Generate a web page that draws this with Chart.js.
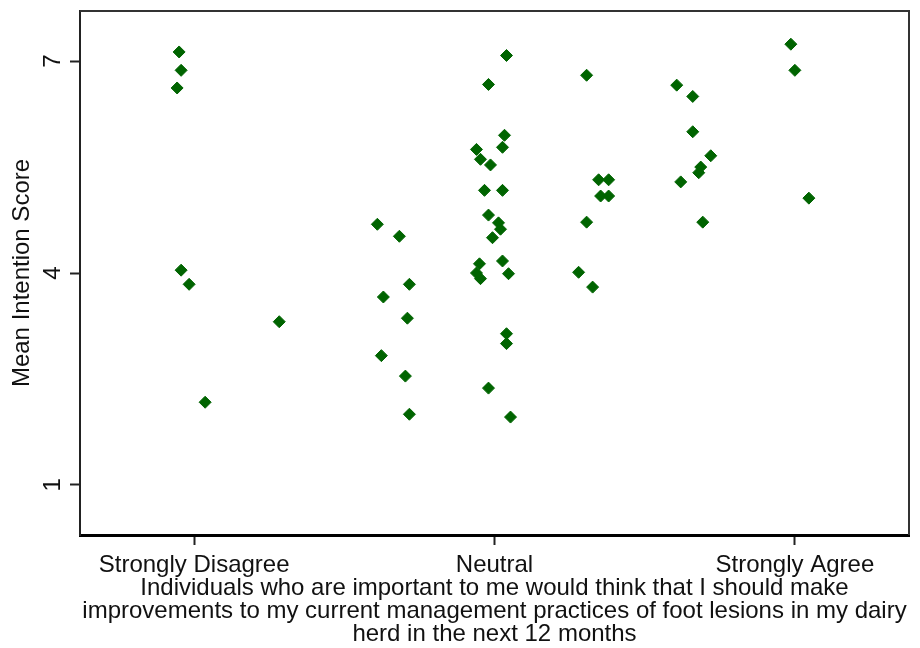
<!DOCTYPE html>
<html>
<head>
<meta charset="utf-8">
<script src="https://cdn.jsdelivr.net/npm/chart.js@4/dist/chart.umd.min.js"></script>
<style>
  html, body { margin: 0; padding: 0; background: #fff; }
  #scoreChart { display: block; }
</style>
</head>
<body>
<canvas id="scoreChart" width="920" height="648"></canvas>
<script>
// jittered response position (1 = strongly disagree ... 7 = strongly agree)
const responsePos = [
  0.85, 0.87, 0.83, 0.87, 0.95, 1.85, 1.11,
  2.83, 3.05, 3.15, 2.89, 3.13, 2.87, 3.11, 3.15,
  4.12, 3.94, 4.10, 4.08, 3.82, 3.86, 3.96, 3.90, 4.08, 3.94, 4.04,
  4.06, 3.98, 4.08, 3.85, 3.82, 3.86, 4.14, 4.12, 4.12, 3.94, 4.16,
  4.92, 5.04, 5.14, 5.06, 5.14, 4.92, 4.84, 4.98,
  5.82, 5.98, 5.98, 6.16, 6.06, 6.04, 5.86, 6.08,
  6.96, 7.00, 7.14
];
// mean intention score for each respondent
const intentionScore = [
  7.13, 6.87, 6.62, 4.04, 3.84, 3.31, 2.17,
  4.69, 4.52, 3.84, 3.66, 3.36, 2.83, 2.54, 2.00,
  7.08, 6.67, 5.95, 5.78, 5.75, 5.61, 5.53, 5.17, 5.17, 4.82, 4.71,
  4.62, 4.50, 4.17, 4.13, 4.00, 3.92, 3.99, 3.14, 3.00, 2.37, 1.96,
  6.80, 5.32, 5.32, 5.09, 5.09, 4.72, 4.01, 3.80,
  6.66, 6.50, 6.00, 5.66, 5.50, 5.42, 5.29, 4.72,
  7.24, 6.87, 5.06
];

const xTicks = [1, 4, 7];
const xTickLabels = ['Strongly Disagree', 'Neutral', 'Strongly Agree'];
const yTicks = [1, 4, 7];
const xTitle = [
  'Individuals who are important to me would think that I should make',
  'improvements to my current management practices of foot lesions in my dairy',
  'herd in the next 12 months'
];
const yTitle = 'Mean Intention Score';

const FONT = "'Liberation Sans', Arial, sans-serif";
const TEXT = '#111';

// top and right edges of the plot frame
const framePlugin = {
  id: 'frame',
  afterDraw(chart) {
    const { ctx, chartArea: a } = chart;
    ctx.save();
    ctx.strokeStyle = '#333';
    ctx.lineWidth = 2;
    ctx.beginPath();
    ctx.moveTo(a.left, a.top);
    ctx.lineTo(a.right, a.top);
    ctx.lineTo(a.right, a.bottom);
    ctx.stroke();
    ctx.restore();
  }
};

const points = responsePos.map((x, i) => ({ x: x, y: intentionScore[i] }));

new Chart(document.getElementById('scoreChart'), {
  type: 'scatter',
  data: {
    datasets: [{
      data: points,
      pointStyle: 'rectRot',
      pointRadius: 6,
      pointBorderWidth: 1,
      backgroundColor: '#006400',
      borderColor: '#006400'
    }]
  },
  options: {
    responsive: false,
    devicePixelRatio: 1,
    animation: false,
    layout: { padding: { top: 11, right: 11, left: 0, bottom: 0 } },
    plugins: { legend: { display: false }, tooltip: { enabled: false } },
    scales: {
      x: {
        type: 'linear',
        min: -0.14,
        max: 8.14,
        afterBuildTicks: (s) => { s.ticks = xTicks.map(v => ({ value: v })); },
        afterFit: (s) => {
          s.height = 113;
          s.paddingLeft = 0;
          s.paddingRight = 0;
        },
        ticks: {
          callback: (v) => xTickLabels[xTicks.indexOf(v)],
          font: { family: FONT, size: 24, lineHeight: 1 },
          color: TEXT,
          padding: 8,
          maxRotation: 0,
          autoSkip: false
        },
        grid: { drawOnChartArea: false, tickLength: 10, tickColor: '#222', tickWidth: 2 },
        border: { color: '#000', width: 3 },
        title: {
          display: true,
          text: xTitle,
          font: { family: FONT, size: 24, lineHeight: 0.96 },
          color: TEXT,
          padding: { top: 0, bottom: 2 }
        }
      },
      y: {
        type: 'linear',
        min: 0.29,
        max: 7.71,
        afterBuildTicks: (s) => { s.ticks = yTicks.map(v => ({ value: v })); },
        afterFit: (s) => {
          s.width = 80;
          s.paddingTop = 0;
          s.paddingBottom = 0;
        },
        ticks: {
          font: { family: FONT, size: 24, lineHeight: 1 },
          color: TEXT,
          padding: 10,
          crossAlign: 'center',
          minRotation: 90,
          maxRotation: 90
        },
        grid: { drawOnChartArea: false, tickLength: 10, tickColor: '#222', tickWidth: 2 },
        border: { color: '#222', width: 2 },
        title: {
          display: true,
          text: yTitle,
          font: { family: FONT, size: 24, lineHeight: 1 },
          color: TEXT,
          padding: { top: 10, bottom: 0 }
        }
      }
    }
  },
  plugins: [framePlugin]
});
</script>
</body>
</html>
